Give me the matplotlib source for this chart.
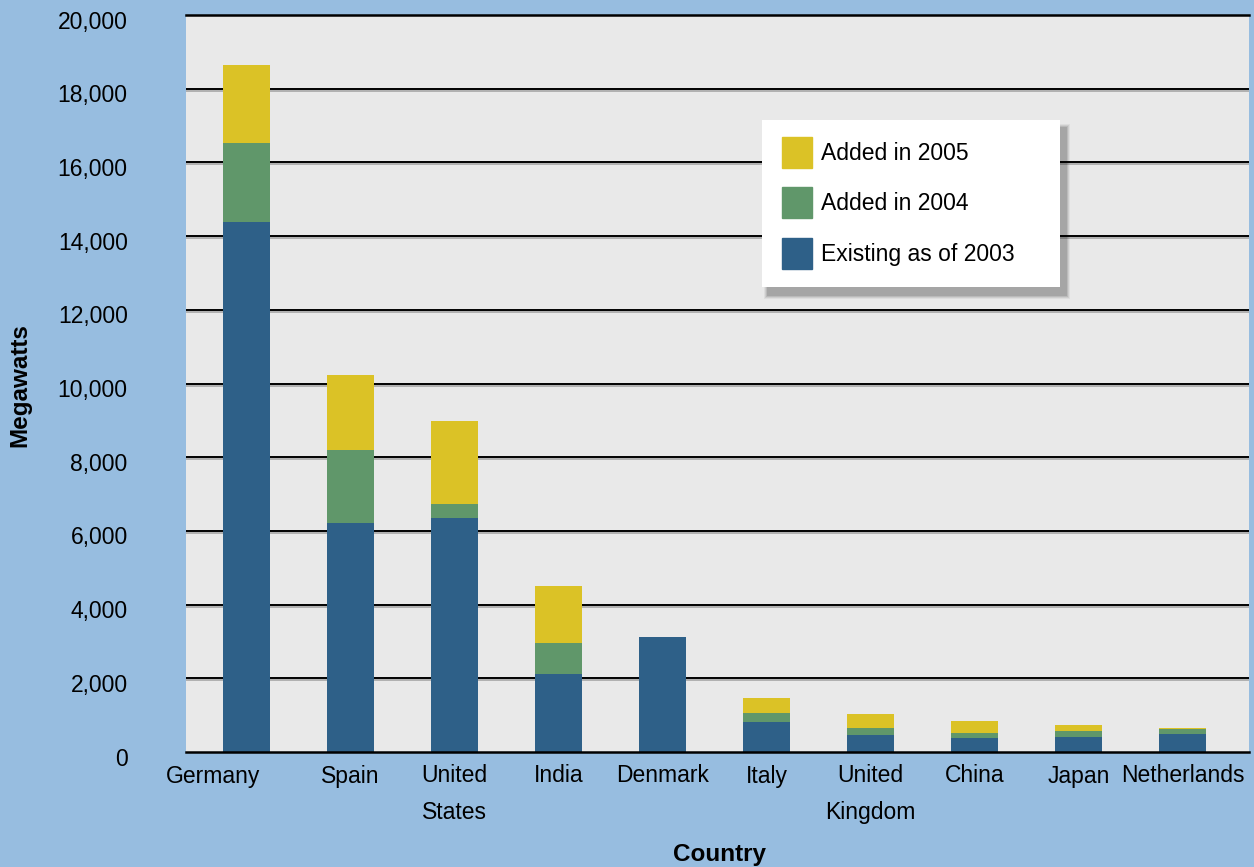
import numpy as np
import matplotlib
matplotlib.use('Agg')
import matplotlib.pyplot as plt
import matplotlib.patheffects as pe
import matplotlib.transforms as mtransforms
from matplotlib.patches import Patch, Rectangle

plt.rcParams['font.family'] = ['Liberation Sans', 'DejaVu Sans']

countries = ['Germany', 'Spain', 'United\nStates', 'India', 'Denmark', 'Italy',
             'United\nKingdom', 'China', 'Japan', 'Netherlands']
# cumulative capacity (MW)
existing_2003 = [14390, 6220, 6340, 2125, 3130, 820, 470, 390, 415, 495]
total_2004 = [16530, 8200, 6740, 2970, 3130, 1065, 660, 525, 580, 635]
total_2005 = [18650, 10240, 8990, 4510, 3130, 1475, 1040, 850, 720, 660]

added_2004 = np.array(total_2004) - np.array(existing_2003)
added_2005 = np.array(total_2005) - np.array(total_2004)

BG = '#97BDE0'
PLOT_BG = '#E9E9E9'
C_BLUE, C_GREEN, C_YELLOW = '#2E6088', '#60976A', '#DBC226'
FS = 16.5

W, H = 1254, 867
fig = plt.figure(figsize=(W / 100, H / 100), dpi=100, facecolor=BG)
ax = fig.add_axes([186 / W, 1 - 752 / H, (1249 - 186) / W, (752 - 15) / H])
ax.set_facecolor(PLOT_BG)

x = np.arange(len(countries))
bw = 0.452
ax.bar(x, existing_2003, bw, color=C_BLUE, zorder=3)
ax.bar(x, added_2004, bw, bottom=existing_2003, color=C_GREEN, zorder=3)
ax.bar(x, added_2005, bw, bottom=total_2004, color=C_YELLOW, zorder=3)

ax.set_xlim(-0.582, 9.64)
ax.set_ylim(0, 20000)
yt = np.arange(0, 20001, 2000)
for v in yt[1:-1]:
    ax.axhline(v, color='black', lw=1.4, zorder=1,
               path_effects=[pe.SimpleLineShadow(offset=(0, -1.5), shadow_color='#777777', alpha=0.5),
                             pe.Normal()])
ax.axhline(20000, color='black', lw=1.8, zorder=1, clip_on=False)
ax.axhline(0, color='black', lw=1.8, zorder=4, clip_on=False)

for s in ax.spines.values():
    s.set_visible(False)
ax.set_yticks(yt)
ax.set_yticklabels([f'{v:,}' for v in yt], fontsize=FS)
ax.set_xticks(x)
ax.set_xticklabels(countries, fontsize=FS, linespacing=1.75)
ax.tick_params(axis='y', length=0, pad=42)
ax.tick_params(axis='x', length=0, pad=9)
# y labels sit slightly below their gridlines in the original
for lbl in ax.get_yticklabels():
    lbl.set_transform(lbl.get_transform() + mtransforms.ScaledTranslation(0, -0.045, fig.dpi_scale_trans))
# first label sits a bit left of its bar in the original
lbl0 = ax.get_xticklabels()[0]
lbl0.set_transform(lbl0.get_transform() + mtransforms.ScaledTranslation(-0.33, 0, fig.dpi_scale_trans))

fig.text(719 / W, 1 - 854 / H, 'Country', ha='center', va='center', fontsize=17.5, fontweight='bold')
fig.text(20 / W, 1 - 385 / H, 'Megawatts', ha='center', va='center', rotation=90,
         fontsize=17.5, fontweight='bold')

# legend box with soft drop shadow
bx0, by0, bx1, by1 = 762, 120, 1060, 287
for i, a in enumerate([0.05, 0.07, 0.09, 0.11]):
    g = 4 - i
    fig.add_artist(Rectangle(((bx0 + 6 - g) / W, 1 - (by1 + 8 + g) / H),
                             (bx1 - bx0 + 2 * g) / W, (by1 - by0 + 2 * g) / H,
                             transform=fig.transFigure, facecolor='black', edgecolor='none',
                             alpha=a, zorder=5))
fig.add_artist(Rectangle((bx0 / W, 1 - by1 / H), (bx1 - bx0) / W, (by1 - by0) / H,
                         transform=fig.transFigure, facecolor='white', edgecolor='none', zorder=6))
handles = [Patch(color=C_YELLOW, label='Added in 2005'),
           Patch(color=C_GREEN, label='Added in 2004'),
           Patch(color=C_BLUE, label='Existing as of 2003')]
leg = fig.legend(handles=handles, loc='upper left', bbox_to_anchor=(766 / W, 1 - 121 / H),
                 frameon=False, fontsize=FS, handlelength=1.32, handleheight=1.7,
                 handletextpad=0.4, labelspacing=0.85, borderpad=0.2)
leg.set_zorder(7)

fig.savefig('out.png', dpi=100, facecolor=BG)
